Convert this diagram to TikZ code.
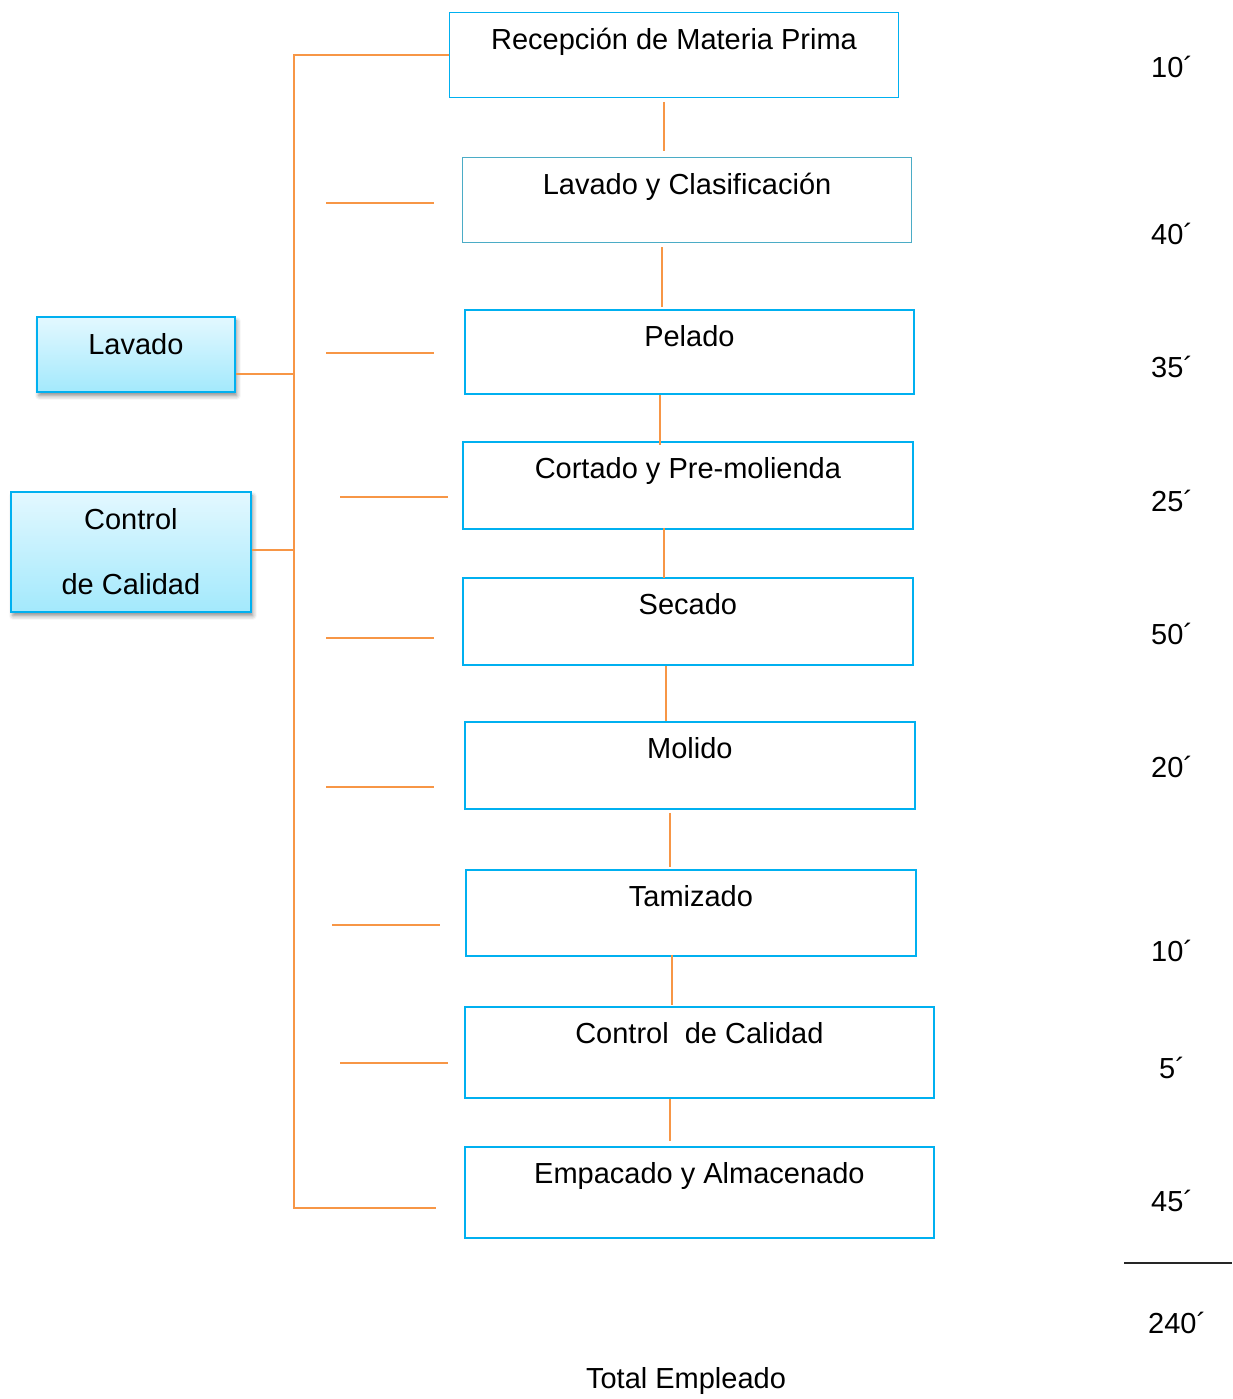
\documentclass[tikz,border=0pt]{standalone}
\usepackage{fontspec}
\setmainfont{Liberation Sans}
\usetikzlibrary{shadows.blur}

\definecolor{floworange}{HTML}{F79646}
\definecolor{boxcyan}{HTML}{00B0F0}
\definecolor{boxaqua}{HTML}{4BACC6}
\definecolor{shadetop}{HTML}{E3F8FF}
\definecolor{shadebot}{HTML}{A3E9FC}

\tikzset{
  bigtext/.style={font=\fontsize{29}{35}\selectfont},
  stepbox/.style={draw=boxcyan, line width=1.8pt, rectangle, anchor=north west,
    inner xsep=0pt, inner ysep=0pt, text height=37pt, bigtext},
  sidebox/.style={draw=boxcyan, line width=1.8pt, rectangle, anchor=north west,
    top color=shadetop, bottom color=shadebot,
    blur shadow={shadow xshift=2pt, shadow yshift=-4pt, shadow blur radius=4pt,
                 shadow opacity=45},
    inner sep=0pt, bigtext},
  link/.style={draw=floworange, line width=2.2pt},
  timelabel/.style={anchor=west, inner sep=0pt, bigtext}
}

\begin{document}
\begin{tikzpicture}[x=1pt, y=-1pt]
\useasboundingbox (0,0) rectangle (1232,1399);

% process steps
\node[stepbox, line width=1pt, minimum width=449pt, text depth=48pt] (b1) at (449,12) {Recepción de Materia Prima};
\node[stepbox, draw=boxaqua, line width=1.2pt, minimum width=449pt, text depth=48pt] (b2) at (462,157) {Lavado y Clasificación};
\node[stepbox, minimum width=449pt, text depth=47pt] (b3) at (464,309) {Pelado};
\node[stepbox, minimum width=450pt, text depth=50pt] (b4) at (462,441) {Cortado y Pre-molienda};
\node[stepbox, minimum width=450pt, text depth=50pt] (b5) at (462,577) {Secado};
\node[stepbox, minimum width=450pt, text depth=50pt] (b6) at (464,721) {Molido};
\node[stepbox, minimum width=450pt, text depth=49pt] (b7) at (465,869) {Tamizado};
\node[stepbox, minimum width=469pt, text depth=54pt] (b8) at (464,1006) {Control~ de Calidad};
\node[stepbox, minimum width=469pt, text depth=54pt] (b9) at (464,1146) {Empacado y Almacenado};

% links between consecutive steps
\draw[link] ([yshift=-4pt]b1.south -| 664,0) -- ([yshift=6pt]b2.north -| 664,0);
\draw[link] ([yshift=-4pt]b2.south -| 662,0) -- ([yshift=2pt]b3.north -| 662,0);
\draw[link] (b3.south -| 660,0) -- ([yshift=-4pt]b4.north -| 660,0);
\draw[link] ([yshift=2pt]b4.south -| 664,0) -- ([yshift=-1pt]b5.north -| 664,0);
\draw[link] (b5.south -| 666,0) -- (b6.north -| 666,0);
\draw[link] ([yshift=-3pt]b6.south -| 670,0) -- ([yshift=2pt]b7.north -| 670,0);
\draw[link] ([yshift=2pt]b7.south -| 672,0) -- ([yshift=1pt]b8.north -| 672,0);
\draw[link] (b8.south -| 670,0) -- ([yshift=5pt]b9.north -| 670,0);

% side operations
\node[sidebox, minimum width=198pt, text height=38pt, text depth=37pt] (lav) at (36,316) {Lavado};
\node[sidebox, minimum width=240pt, minimum height=120pt, align=center,
      font=\fontsize{29}{65}\selectfont] (cal) at (10,491) {Control\\de Calidad};

% bracket on the left
\coordinate (brbot) at (294,1208);
\coordinate (brend) at (436,1208);
\draw[link] (b1.west) -| (brbot) -- (brend);
\draw[link] ([yshift=-19.5pt]lav.east) -- ([yshift=-19.5pt]lav.east -| brbot);
\draw[link] ([yshift=2pt]cal.east) -- ([yshift=2pt]cal.east -| brbot);

% short ticks beside the steps
\foreach \xa/\xb/\yy in {326/434/203, 326/434/353, 340/448/497, 326/434/638,
                         326/434/787, 332/440/925, 340/448/1063}
  \draw[link] (\xa,\yy) -- (\xb,\yy);

% times
\node[timelabel] (t1) at (1151,67) {10´};
\node[timelabel] (t2) at (1151,234) {40´};
\node[timelabel] (t3) at (1151,367) {35´};
\node[timelabel] (t4) at (1151,501) {25´};
\node[timelabel] (t5) at (1151,634) {50´};
\node[timelabel] (t6) at (1151,767) {20´};
\node[timelabel] (t7) at (1151,951) {10´};
\node[timelabel] (t8) at (1159,1068) {5´};
\node[timelabel] (t9) at (1151,1201) {45´};

\coordinate (sumL) at (1124,1263);
\coordinate (sumR) at (1232,1263);
\draw[line width=1.5pt, black!85] (sumL) -- (sumR);
\node[timelabel] (tot) at (1148,1323) {240´};

\node[bigtext, inner sep=0pt] (total) at (686,1381) {Total Empleado};
\end{tikzpicture}
\end{document}
